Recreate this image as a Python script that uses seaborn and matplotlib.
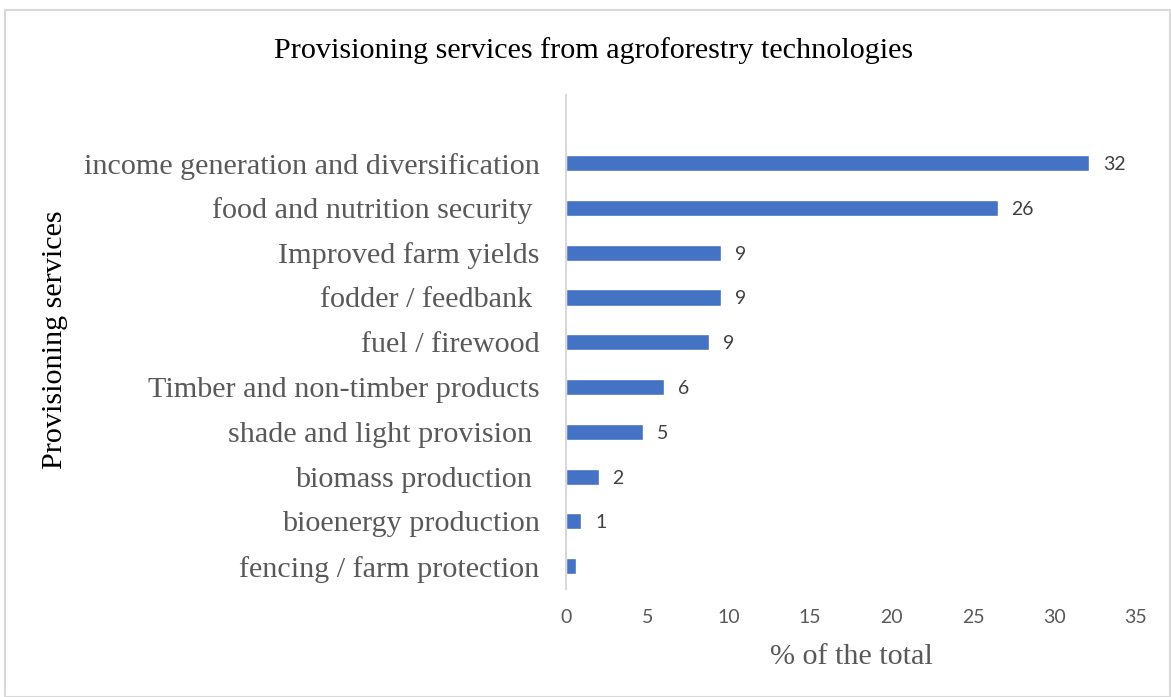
import matplotlib
matplotlib.use("Agg")
import matplotlib.pyplot as plt
from matplotlib.patches import Rectangle
import seaborn as sns

# data
services = ["income generation and diversification",
            "food and nutrition security ",
            "Improved farm yields",
            "fodder / feedbank ",
            "fuel / firewood",
            "Timber and non-timber products",
            "shade and light provision ",
            "biomass production ",
            "bioenergy production",
            "fencing / farm protection"]
percent = [32.1, 26.5, 9.5, 9.5, 8.8, 6.0, 4.75, 2.0, 0.95, 0.6]
value_labels = ["32", "26", "9", "9", "9", "6", "5", "2", "1", ""]
xticks = [0, 5, 10, 15, 20, 25, 30, 35]

sns.set_style("white")
serif = ["Liberation Serif", "DejaVu Serif"]
sans = ["Lato", "DejaVu Sans"]

fig = plt.figure(figsize=(11.71, 6.97), dpi=100)
ax = fig.add_axes([0.4833, 0.1555, 0.4868, 0.7082])

sns.barplot(x=percent, y=services, orient="h", color="#4472C4",
            saturation=1, width=0.36, ax=ax)

lbls = ax.bar_label(ax.containers[0], labels=value_labels, padding=10,
                    fontsize=14, color="#404040", family=sans)
for t in lbls:
    t.set_va("center_baseline")

ax.set_xlim(0, 35)
ax.set_ylim(9.5, -1.52)
ax.set_xticks(xticks)
ax.set_xticklabels([str(t) for t in xticks], fontsize=14,
                   color="#595959", family=sans)
ax.set_yticks(range(len(services)))
ax.set_yticklabels(services, fontsize=21.7, color="#595959", family=serif)
ax.tick_params(axis="x", length=0, pad=15)
ax.tick_params(axis="y", length=0, pad=19)

for s in ["top", "right", "bottom"]:
    ax.spines[s].set_visible(False)
ax.spines["left"].set_color("#D9D9D9")
ax.spines["left"].set_linewidth(1.5)
ax.grid(False)

ax.set_xlabel("% of the total", fontsize=21.7, color="#595959", family=serif)
ax.xaxis.set_label_coords(0.5, -0.112)
ax.xaxis.label.set_va("top")
ax.set_ylabel("Provisioning services", fontsize=21.7, color="black", family=serif)
ax.yaxis.set_label_coords(-0.874, 0.504)

fig.text(0.507, 0.928, "Provisioning services from agroforestry technologies",
         fontsize=21.7, color="black", family=serif, ha="center", va="center")

# outer chart border
fig.patches.append(Rectangle((0.004, 0.0), 0.995, 0.985, transform=fig.transFigure,
                             fill=False, edgecolor="#D9D9D9", linewidth=1.5))

fig.savefig("out.png", dpi=100)
